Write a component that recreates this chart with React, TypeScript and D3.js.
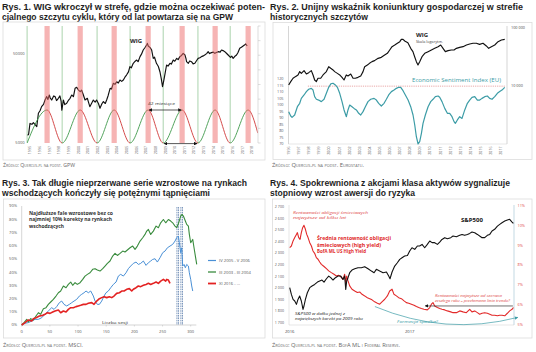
import React from 'react';
import * as d3 from 'd3';

const F = "'Open Sans', 'DejaVu Sans', sans-serif";
const FT = "'Liberation Sans', Arial, sans-serif";

// ---------- Rys. 1 ----------
const P1_YEARS = [1995, 1996, 1997, 1998, 1999, 2000, 2001, 2002, 2003, 2004, 2005, 2006, 2007, 2008, 2009, 2010, 2011, 2012, 2013, 2014, 2015, 2016, 2017, 2018];
const P1_Y_TICKS = [5000, 50000];
const P1_RIGHT_TICKS = [0, 1, 2, 3, 4, 5, 6, 7, 8];
const P1_WIG: [number, number][] = [
  [1994.73, 6150], [1994.85, 6200], [1995.0, 8300], [1995.2, 8100], [1995.35, 8450], [1995.55, 8000], [1995.7, 7640],
  [1995.87, 10800], [1996.05, 11600], [1996.2, 12800], [1996.4, 13600], [1996.56, 15200], [1996.73, 16600],
  [1996.85, 15400], [1997.0, 17300], [1997.1, 16000], [1997.25, 15200], [1997.45, 16900], [1997.6, 16600],
  [1997.75, 15000], [1997.94, 15900], [1998.1, 16900], [1998.22, 14800], [1998.3, 11700], [1998.46, 15200],
  [1998.6, 13500], [1998.8, 14000], [1999.0, 15200], [1999.15, 15900], [1999.32, 17300], [1999.5, 16600],
  [1999.67, 20600], [1999.84, 21100], [2000.0, 19800], [2000.2, 18900], [2000.35, 19600], [2000.53, 17300],
  [2000.7, 15200], [2000.94, 15900], [2001.05, 14500], [2001.2, 12800], [2001.4, 14100], [2001.56, 15200],
  [2001.75, 14400], [2001.9, 15200], [2002.1, 13800], [2002.25, 12300], [2002.45, 13800], [2002.6, 14600],
  [2002.8, 13900], [2002.94, 15200], [2003.1, 17100], [2003.3, 20600], [2003.45, 20200], [2003.63, 23400],
  [2003.8, 22800], [2003.98, 24400], [2004.15, 23600], [2004.32, 25500], [2004.5, 24600], [2004.67, 25500],
  [2004.85, 27600], [2005.0, 29000], [2005.2, 31500], [2005.35, 36000], [2005.5, 35000], [2005.7, 39300],
  [2005.9, 41500], [2006.05, 42800], [2006.2, 41000], [2006.4, 46700], [2006.55, 49800], [2006.73, 55500],
  [2006.9, 58800], [2007.08, 63100], [2007.16, 65800], [2007.25, 61500], [2007.45, 59000], [2007.6, 55500],
  [2007.77, 44700], [2007.9, 46000], [2008.1, 39300], [2008.3, 36200], [2008.46, 31600], [2008.6, 26500],
  [2008.73, 21500], [2008.87, 25500], [2009.0, 30500], [2009.15, 37600], [2009.3, 36500], [2009.5, 39300],
  [2009.65, 38500], [2009.84, 42800], [2010.0, 41500], [2010.2, 44700], [2010.35, 43200], [2010.53, 46700],
  [2010.7, 48200], [2010.87, 50800], [2011.05, 48700], [2011.15, 45000], [2011.22, 41000], [2011.4, 39300],
  [2011.55, 41800], [2011.73, 41000], [2011.9, 38700], [2012.08, 39300], [2012.25, 42000], [2012.42, 44700],
  [2012.6, 45300], [2012.77, 46700], [2012.95, 47600], [2013.1, 48700], [2013.3, 50500], [2013.46, 53100],
  [2013.6, 50600], [2013.8, 51800], [2014.0, 52500], [2014.15, 50800], [2014.3, 52000], [2014.5, 53100],
  [2014.7, 52500], [2014.84, 55500], [2015.0, 54600], [2015.18, 53100], [2015.35, 51000], [2015.53, 48700],
  [2015.77, 45900], [2015.9, 47300], [2016.05, 44700], [2016.2, 46800], [2016.4, 48700], [2016.55, 52000],
  [2016.73, 57900], [2016.9, 59500], [2017.08, 61500], [2017.22, 63000], [2017.35, 64800], [2017.5, 61500],
];
const P1_TROUGHS = [1994.7, 1998.33, 2001.95, 2005.37, 2008.8, 2012.4, 2015.74];
const P1_PEAKS = [1996.77, 2000.2, 2003.72, 2007.24, 2010.76, 2014.18, 2017.6];
const P1_WAVE_END: [number, number] = [2018.6, 0.3];

// ---------- Rys. 2 ----------
const P2_YEARS = [1996, 1997, 1998, 1999, 2000, 2001, 2002, 2003, 2004, 2005, 2006, 2007, 2008, 2009, 2010, 2011, 2012, 2013, 2014, 2015, 2016, 2017];
const P2_ESI_TICKS = [120, 115, 110, 105, 100, 95, 90, 85, 80, 75, 70];
const P2_WIG_TICKS = [100000, 10000];
const P2_ESI_PEAK = 114.5;
const P2_WIG: [number, number][] = [
  [1996.0, 10400], [1996.2, 11900], [1996.43, 13600], [1996.66, 14500], [1996.92, 15500], [1997.09, 17700],
  [1997.25, 16500], [1997.52, 18400], [1997.75, 16100], [1997.98, 17000], [1998.24, 18400], [1998.41, 15500],
  [1998.57, 12700], [1998.74, 11900], [1998.9, 13600], [1999.17, 13600], [1999.4, 15500], [1999.73, 17700],
  [1999.96, 21500], [2000.16, 20200], [2000.39, 18900], [2000.55, 17700], [2000.82, 16500], [2001.05, 15500],
  [2001.28, 14100], [2001.48, 12700], [2001.7, 15500], [2001.87, 14900], [2002.14, 16100], [2002.37, 13600],
  [2002.6, 13600], [2002.86, 14100], [2003.13, 14900], [2003.36, 17700], [2003.52, 21500], [2003.79, 23000],
  [2004.0, 24600], [2004.25, 26300], [2004.5, 27400], [2004.85, 30000], [2005.17, 31200], [2005.5, 34200],
  [2005.77, 36600], [2006.0, 41800], [2006.23, 47700], [2006.5, 50900], [2006.76, 54500], [2007.0, 58100],
  [2007.15, 63800], [2007.32, 63800], [2007.49, 59700], [2007.8, 55900], [2008.08, 44600], [2008.3, 39100],
  [2008.47, 32000], [2008.64, 26300], [2008.8, 23000], [2008.97, 26300], [2009.2, 32000], [2009.47, 36600],
  [2009.8, 39100], [2010.13, 41800], [2010.46, 44600], [2010.79, 47700], [2011.05, 50900], [2011.28, 44600],
  [2011.51, 39100], [2011.78, 40700], [2012.1, 41800], [2012.37, 41800], [2012.6, 44600], [2012.93, 46400],
  [2013.26, 47700], [2013.6, 50900], [2013.92, 53000], [2014.25, 54500], [2014.58, 54500], [2014.9, 52200],
  [2015.24, 54500], [2015.57, 49000], [2015.8, 44600], [2016.07, 47700], [2016.4, 50900], [2016.73, 58100],
  [2017.06, 62100], [2017.39, 63800],
];
const P2_ESI: [number, number][] = [
  [1996.0, 94.9], [1996.2, 91.5], [1996.33, 90.5], [1996.59, 92.3], [1996.86, 98.7], [1997.09, 101.3],
  [1997.25, 105.1], [1997.52, 107.7], [1997.75, 110.3], [1997.98, 112.1], [1998.24, 112.8], [1998.41, 111.5],
  [1998.57, 106.4], [1998.74, 104.4], [1998.97, 103.8], [1999.23, 102.6], [1999.5, 104.4], [1999.73, 109.0],
  [1999.96, 113.6], [2000.16, 116.2], [2000.39, 116.7], [2000.62, 115.4], [2000.82, 113.6], [2001.05, 109.0],
  [2001.28, 102.6], [2001.48, 96.2], [2001.71, 91.0], [2001.87, 96.2], [2002.04, 100.0], [2002.27, 98.7],
  [2002.47, 97.4], [2002.7, 96.2], [2002.93, 93.6], [2003.13, 92.3], [2003.36, 94.9], [2003.59, 98.7],
  [2003.85, 102.6], [2004.12, 104.4], [2004.45, 105.1], [2004.68, 103.8], [2004.91, 101.3], [2005.17, 99.2],
  [2005.44, 101.3], [2005.67, 104.4], [2005.9, 107.7], [2006.17, 110.3], [2006.43, 111.5], [2006.66, 112.8],
  [2006.89, 113.6], [2007.09, 113.6], [2007.32, 111.0], [2007.55, 107.7], [2007.82, 103.8], [2008.08, 98.7],
  [2008.31, 92.3], [2008.48, 84.6], [2008.64, 75.6], [2008.81, 70.0], [2008.97, 71.8], [2009.14, 78.2],
  [2009.3, 85.9], [2009.53, 92.3], [2009.8, 98.7], [2010.06, 102.6], [2010.29, 104.4], [2010.52, 106.4],
  [2010.79, 106.9], [2010.95, 105.9], [2011.18, 102.6], [2011.45, 97.4], [2011.71, 93.6], [2011.94, 93.6],
  [2012.17, 91.0], [2012.37, 87.2], [2012.5, 85.9], [2012.7, 88.5], [2012.93, 91.0], [2013.16, 89.7],
  [2013.43, 96.2], [2013.69, 101.3], [2013.92, 103.8], [2014.15, 105.9], [2014.42, 106.4], [2014.68, 103.8],
  [2014.91, 103.8], [2015.14, 105.1], [2015.41, 106.4], [2015.67, 106.9], [2015.9, 105.1], [2016.13, 104.4],
  [2016.4, 106.4], [2016.66, 109.0], [2016.89, 110.3], [2017.12, 111.5], [2017.39, 113.6],
];

// ---------- Rys. 3 ----------
const P3_X_TICKS = [0, 50, 100, 150, 200, 250, 300];
const P3_Y_TICKS = [0, 0.1, 0.2, 0.3, 0.4, 0.5, 0.6, 0.7, 0.8, 0.9];
const P3_MARKERS = [277, 284];
const P3_GREEN: [number, number][] = [
  [0, 0], [4.1, 1.8], [8.9, 4.3], [11.8, 2.3], [16, 4.8], [20.7, 3.8], [25.4, 6.8], [29.6, 9.3], [33.7, 8.1],
  [38.5, 12.3], [43.2, 13.1], [47.3, 15.6], [51.5, 17.4], [56.2, 19.4], [60.9, 21.9], [65.1, 24.4], [69.2, 25.7],
  [74, 29.5], [78.7, 28.2], [82.8, 30.7], [87, 32.5], [90.5, 30.0], [94.7, 32.0], [98.8, 30.7], [103.6, 32.0],
  [108.3, 34.5], [112.4, 37.0], [116.6, 38.3], [121.3, 39.5], [126, 42.1], [130.2, 42.6], [134.3, 41.6],
  [139.1, 40.8], [143.8, 42.6], [147.9, 44.6], [152.1, 46.6], [156.8, 48.4], [161.5, 52.1], [165.7, 54.2],
  [169.8, 52.6], [174.6, 54.2], [179.3, 55.9], [183.4, 55.2], [187.6, 56.7], [192.3, 58.4], [197, 59.7],
  [201.2, 57.2], [205.3, 59.7], [210.1, 63.5], [214.8, 66.0], [218.9, 68.5], [221.9, 71.0], [224.9, 72.3],
  [229, 68.5], [233.7, 71.0], [238.5, 74.8], [242.6, 73.6], [246.7, 77.3], [251.5, 79.8], [255.6, 77.3],
  [260.4, 79.8], [264.5, 78.6], [268, 77.3], [272.2, 74.8], [275.1, 73.6], [278.7, 77.3], [282.2, 82.4],
  [284.6, 83.6], [287, 82.4], [290.5, 78.6], [292.9, 76.1], [295.9, 74.8], [297.6, 68.5], [300, 62.2],
  [303.6, 64.7], [305.9, 58.4], [308.3, 52.1], [310.7, 45.8],
];
const P3_BLUE: [number, number][] = [
  [0, 0], [5.9, 1.3], [11.8, 1.8], [17.8, 3.0], [23.7, 4.3], [29.6, 4.3], [35.5, 5.5], [41.4, 8.1], [47.3, 10.6],
  [53.3, 13.1], [57.4, 11.8], [62.1, 13.9], [66.9, 16.9], [71, 18.1], [75.1, 15.6], [79.9, 14.4], [84.6, 15.6],
  [88.8, 16.9], [92.9, 18.1], [97.6, 19.4], [102.4, 21.9], [106.5, 23.2], [110.7, 24.4], [114.2, 25.7],
  [118.3, 24.4], [122.5, 25.7], [127.2, 21.9], [130.2, 18.1], [134.3, 15.6], [137.9, 15.6], [142, 18.1],
  [146.2, 21.9], [149.7, 24.4], [153.8, 25.7], [158, 28.2], [162.7, 30.7], [167.5, 32.5], [171.6, 37.0],
  [175.7, 38.3], [180.5, 37.0], [185.2, 39.5], [189.3, 42.6], [193.5, 44.6], [198.2, 46.6], [203, 47.6],
  [207.1, 45.8], [211.2, 46.6], [216, 48.4], [220.7, 45.1], [224.9, 47.1], [229, 48.4], [232.5, 49.6],
  [236.7, 50.1], [240.8, 47.6], [245.6, 50.9], [250.3, 54.7], [254.4, 55.9], [258.6, 58.4], [263.3, 59.7],
  [268, 61.0], [272.2, 63.5], [275.1, 66.0], [278.1, 67.3], [279.9, 62.2], [282.2, 54.7], [284, 58.4],
  [285.8, 44.6], [288.2, 45.8], [290.5, 43.3], [292.9, 45.8], [295.9, 44.6], [297.6, 39.5], [300, 34.5],
  [301.8, 29.5], [303.6, 25.7],
];
const P3_RED: [number, number][] = [
  [0, 0], [5.9, 1.8], [11.8, 3.8], [17.8, 3.0], [20.7, 4.8], [25.4, 5.5], [31.4, 6.8], [37.3, 7.3], [41.4, 8.1],
  [45.6, 9.3], [50.3, 8.8], [55, 9.8], [59.2, 10.6], [65.1, 11.3], [69.2, 9.3], [74, 10.6], [78.7, 9.8],
  [82.8, 11.8], [87, 13.1], [91.7, 13.1], [96.4, 13.9], [100.6, 14.4], [104.7, 14.9], [109.5, 15.6],
  [114.2, 15.6], [118.3, 16.4], [124.3, 16.9], [128.4, 15.6], [133.1, 18.1], [137.9, 19.9], [142, 20.7],
  [146.2, 21.4], [150.9, 20.7], [155.6, 21.4], [159.8, 20.7], [163.9, 21.9], [168.6, 23.9], [173.4, 24.4],
  [177.5, 25.7], [181.7, 25.7], [186.4, 27.0], [191.1, 27.5], [195.3, 25.7], [198.2, 27.0], [203, 28.2],
  [207.1, 29.5], [211.2, 29.0], [216, 30.0], [220.7, 30.7], [224.9, 31.5], [229, 30.7], [233.7, 31.5],
  [238.5, 32.5], [242.6, 31.5], [246.7, 33.2], [251.5, 34.5], [255.6, 33.2], [257.4, 34.5], [260.4, 34.0],
  [263.3, 31.5],
];
const P3_LEGEND = ['IV 2005 - V 2006', 'III 2003 - III 2004', 'XI 2016 - ...'];

// ---------- Rys. 4 ----------
const P4_SP_TICKS = [2700, 2600, 2500, 2400, 2300, 2200, 2100, 2000, 1900, 1800, 1700];
const P4_HY_TICKS = [11, 10, 9, 8, 7, 6, 5];
const P4_X_TICKS = [2016, 2017];
const P4_SP: [number, number][] = [
  [2016.0, 2002], [2016.014, 1944], [2016.028, 1901], [2016.042, 1887], [2016.056, 1858], [2016.069, 1901],
  [2016.083, 1930], [2016.097, 1887], [2016.111, 1815], [2016.119, 1844], [2016.131, 1901], [2016.147, 1958],
  [2016.167, 2002], [2016.186, 2016], [2016.208, 2030], [2016.231, 2050], [2016.25, 2059], [2016.269, 2068],
  [2016.286, 2050], [2016.306, 2079], [2016.325, 2102], [2016.342, 2088], [2016.361, 2068], [2016.381, 2088],
  [2016.403, 2102], [2016.425, 2102], [2016.444, 2073], [2016.458, 2102], [2016.467, 1987], [2016.475, 2059],
  [2016.486, 2088], [2016.5, 2131], [2016.519, 2154], [2016.542, 2165], [2016.569, 2174], [2016.597, 2174],
  [2016.625, 2183], [2016.653, 2165], [2016.681, 2145], [2016.703, 2131], [2016.722, 2160], [2016.75, 2145],
  [2016.778, 2131], [2016.806, 2137], [2016.825, 2102], [2016.836, 2079], [2016.853, 2137], [2016.875, 2188],
  [2016.897, 2217], [2016.917, 2246], [2016.936, 2260], [2016.958, 2275], [2016.981, 2280], [2017.0, 2318],
  [2017.019, 2346], [2017.042, 2332], [2017.064, 2361], [2017.083, 2361], [2017.103, 2375], [2017.125, 2346],
  [2017.147, 2375], [2017.167, 2404], [2017.186, 2390], [2017.208, 2390], [2017.231, 2375], [2017.25, 2395],
  [2017.269, 2418], [2017.292, 2433], [2017.314, 2424], [2017.342, 2433], [2017.361, 2447], [2017.389, 2441],
  [2017.417, 2453], [2017.436, 2461], [2017.458, 2453], [2017.481, 2461], [2017.5, 2470], [2017.519, 2482],
  [2017.542, 2476], [2017.564, 2461], [2017.583, 2447], [2017.603, 2433], [2017.625, 2433], [2017.647, 2453],
  [2017.667, 2461], [2017.686, 2490], [2017.708, 2505], [2017.731, 2533], [2017.75, 2548], [2017.769, 2562],
  [2017.792, 2576], [2017.814, 2585], [2017.833, 2591], [2017.853, 2568], [2017.864, 2556],
];
const P4_HY: [number, number][] = [
  [2016.0, 8.89], [2016.014, 8.97], [2016.028, 9.23], [2016.042, 9.40], [2016.056, 9.56], [2016.064, 9.65],
  [2016.075, 9.40], [2016.086, 9.31], [2016.097, 9.65], [2016.108, 9.90], [2016.119, 10.02], [2016.131, 9.82],
  [2016.142, 9.56], [2016.153, 9.40], [2016.167, 9.14], [2016.181, 8.97], [2016.194, 8.72], [2016.208, 8.60],
  [2016.222, 8.38], [2016.236, 8.30], [2016.25, 8.16], [2016.264, 8.04], [2016.286, 7.93], [2016.306, 7.82],
  [2016.325, 7.71], [2016.347, 7.62], [2016.369, 7.54], [2016.389, 7.45], [2016.408, 7.49], [2016.425, 7.42],
  [2016.444, 7.28], [2016.458, 7.54], [2016.467, 7.11], [2016.475, 7.45], [2016.486, 7.20], [2016.5, 6.95],
  [2016.519, 6.78], [2016.542, 6.69], [2016.564, 6.61], [2016.583, 6.64], [2016.603, 6.52], [2016.625, 6.44],
  [2016.647, 6.35], [2016.667, 6.30], [2016.686, 6.24], [2016.708, 6.14], [2016.731, 6.07], [2016.75, 6.02],
  [2016.769, 6.14], [2016.792, 6.27], [2016.814, 6.44], [2016.833, 6.69], [2016.853, 6.78], [2016.869, 6.52],
  [2016.889, 6.44], [2016.908, 6.35], [2016.931, 6.30], [2016.953, 6.19], [2016.972, 6.10], [2016.992, 6.07],
  [2017.014, 6.02], [2017.036, 5.97], [2017.056, 5.90], [2017.075, 5.85], [2017.097, 5.80], [2017.119, 5.76],
  [2017.147, 5.73], [2017.167, 5.85], [2017.181, 6.02], [2017.194, 6.10], [2017.208, 5.93], [2017.231, 5.85],
  [2017.25, 5.80], [2017.269, 5.76], [2017.292, 5.73], [2017.314, 5.68], [2017.342, 5.63], [2017.361, 5.59],
  [2017.389, 5.59], [2017.417, 5.68], [2017.444, 5.63], [2017.472, 5.59], [2017.5, 5.76], [2017.519, 5.63],
  [2017.542, 5.68], [2017.564, 5.59], [2017.583, 5.51], [2017.603, 5.56], [2017.625, 5.59], [2017.647, 5.56],
  [2017.667, 5.51], [2017.686, 5.46], [2017.708, 5.46], [2017.731, 5.43], [2017.75, 5.46], [2017.769, 5.46],
  [2017.792, 5.43], [2017.814, 5.56], [2017.833, 5.68], [2017.853, 5.76], [2017.864, 5.85],
];
const P4_HY_LEVEL = 5.93;
const P4_HY_LEVEL_FROM = 2017.13;
const P4_HY_LEVEL_TO = 2017.86;

// ---------- scales ----------
const x1 = d3.scaleLinear().domain([1995, 2018]).range([30, 252]);
const y1 = d3.scaleLog().domain([5000, 50000]).range([143, 54]);
const w1 = d3.scaleLinear().domain([0, 1]).range([143, 110]);
const r1 = d3.scaleLinear().domain([0, 8]).range([143, 26]);

const x2 = d3.scaleLinear().domain([1996, 2017]).range([288.7, 500.8]);
const yW2 = d3.scaleLog().domain([10000, 100000]).range([86, 28]);
const yE2 = d3.scaleLinear().domain([70, 120]).range([144, 79]);

const x3 = d3.scaleLinear().domain([0, 300]).range([21.7, 190.7]);
const y3 = d3.scaleLinear().domain([0, 0.9]).range([325, 206]);

const x4 = d3.scaleLinear().domain([2016, 2017]).range([289.7, 409.7]);
const yS4 = d3.scaleLinear().domain([1700, 2700]).range([322.7, 206.7]);
const yR4 = d3.scaleLinear().domain([5, 11]).range([324.3, 206]);

const mkLine = (xs: any, ys: any) => d3.line<[number, number]>().x(d => xs(d[0])).y(d => ys(d[1]));

function Title({ x, y, lines }: { x: number; y: number; lines: [string, number][] }) {
  return (
    <g>
      {lines.map(([t, len], i) => (
        <text key={i} x={x} y={y + i * 9.7} fontFamily={FT} fontWeight={700} fontSize={8.6} fill="#1e1e1e"
          textLength={len} lengthAdjust="spacingAndGlyphs">{t}</text>
      ))}
    </g>
  );
}

function Source({ x, y, text, len }: { x: number; y: number; text: string; len: number }) {
  return (
    <text x={x} y={y} fontFamily={F} fontSize={4.6} fill="#666" style={{ fontVariant: 'small-caps' }}
      textLength={len} lengthAdjust="spacingAndGlyphs">{text}</text>
  );
}

function T({ x, y, children, size = 4.2, fill = '#555', anchor = 'start', weight = 400, italic = false, len }: any) {
  return (
    <text x={x} y={y} fontFamily={F} fontSize={size} fill={fill} textAnchor={anchor} fontWeight={weight}
      fontStyle={italic ? 'italic' : 'normal'} textLength={len} lengthAdjust={len ? 'spacingAndGlyphs' : undefined}>
      {children}
    </text>
  );
}

function Panel1() {
  const wavePts: [number, number][] = [];
  P1_TROUGHS.forEach((t, i) => {
    wavePts.push([t, 0]);
    wavePts.push([P1_PEAKS[i], 1]);
  });
  wavePts.push(P1_WAVE_END);
  const wave = d3.line<[number, number]>().x(d => x1(d[0])).y(d => w1(d[1])).curve(d3.curveMonotoneX)(wavePts) || '';
  const rising = P1_TROUGHS.map((t, i) => [t, P1_PEAKS[i]]);
  const falling = P1_PEAKS.map((p, i) => [p, i + 1 < P1_TROUGHS.length ? P1_TROUGHS[i + 1] : P1_WAVE_END[0]]);
  const top = r1(8), bottom = r1(0);
  return (
    <g>
      <Title x={2} y={10.2} lines={[
        ['Rys. 1. WIG wkroczył w strefę, gdzie można oczekiwać poten-', 263],
        ['cjalnego szczytu cyklu, który od lat powtarza się na GPW', 231],
      ]} />
      <rect x={3} y={22} width={262} height={138} fill="none" stroke="#dcdcdc" strokeWidth={0.8} />
      <defs>
        <clipPath id="p1-rise">
          {rising.map(([a, b], i) => <rect key={i} x={x1(a)} y={top - 5} width={x1(b) - x1(a)} height={bottom - top + 10} />)}
        </clipPath>
        <clipPath id="p1-fall">
          {falling.map(([a, b], i) => <rect key={i} x={x1(a)} y={top - 5} width={x1(b) - x1(a)} height={bottom - top + 10} />)}
        </clipPath>
      </defs>
      {P1_TROUGHS.map((t, i) => (
        <line key={i} x1={x1(t)} x2={x1(t)} y1={top} y2={bottom} stroke="#86c08a" strokeWidth={0.7} />
      ))}
      <path d={mkLine(x1, y1)(P1_WIG) || ''} fill="none" stroke="#111" strokeWidth={1.15} strokeLinejoin="round" />
      <path d={wave} fill="none" stroke="#3f9a4c" strokeWidth={0.9} clipPath="url(#p1-rise)" />
      <path d={wave} fill="none" stroke="#cf3838" strokeWidth={0.9} clipPath="url(#p1-fall)" />
      {P1_PEAKS.map((p, i) => (
        <rect key={i} x={x1(p) - 2.6} y={top} width={5.2} height={bottom - top} fill="#ee6a6a" opacity={0.5} />
      ))}
      <line x1={258} x2={258} y1={top} y2={bottom} stroke="#c8c8c8" strokeWidth={0.6} />
      {P1_RIGHT_TICKS.map(v => <line key={v} x1={258} x2={260.5} y1={r1(v)} y2={r1(v)} stroke="#c8c8c8" strokeWidth={0.6} />)}
      {P1_Y_TICKS.map(v => <T key={v} x={24.5} y={y1(v) + 1.4} anchor="end" size={4}>{v}</T>)}
      {P1_YEARS.map(yr => (
        <text key={yr} transform={`translate(${x1(yr) + 1.4},146) rotate(-90)`} fontFamily={F} fontSize={3.6}
          fill="#666" textAnchor="end">{yr}</text>
      ))}
      <line x1={x1(P1_PEAKS[3]) + 1} x2={x1(P1_PEAKS[4]) - 1} y1={w1(1)} y2={w1(1)} stroke="#111" strokeWidth={0.7}
        markerStart="url(#ah-k)" markerEnd="url(#ah-k)" />
      <line x1={x1(P1_TROUGHS[4]) + 1} x2={x1(P1_TROUGHS[5]) - 1} y1={w1(0) + 0.6} y2={w1(0) + 0.6} stroke="#111" strokeWidth={0.7}
        markerStart="url(#ah-k)" markerEnd="url(#ah-k)" />
      <T x={161.5} y={105} anchor="middle" size={4.2} fill="#333" len={27}>42 miesiące</T>
      <T x={130} y={42.5} size={6} weight={700} fill="#222">WIG</T>
      <Source x={3} y={166.5} text="Źródło: Quercus.pl na podst. GPW" len={72} />
    </g>
  );
}

function Panel2() {
  return (
    <g>
      <Title x={270} y={10.2} lines={[
        ['Rys. 2. Unijny wskaźnik koniunktury gospodarczej w strefie', 253],
        ['historycznych szczytów', 98],
      ]} />
      <rect x={273} y={22.5} width={259} height={137} fill="none" stroke="#dcdcdc" strokeWidth={0.8} />
      <line x1={288.5} x2={288.5} y1={26} y2={144} stroke="#bbb" strokeWidth={0.6} />
      <line x1={507} x2={507} y1={26} y2={144} stroke="#bbb" strokeWidth={0.6} />
      <line x1={288.5} x2={507} y1={144} y2={144} stroke="#ccc" strokeWidth={0.5} />
      {P2_ESI_TICKS.map(v => <T key={v} x={283.5} y={yE2(v) + 1.3} anchor="end" size={3.8} fill="#556">{v}</T>)}
      {P2_WIG_TICKS.map(v => <T key={v} x={511} y={yW2(v) + 1.3} size={3.8} fill="#444">{d3.format(',')(v).replace(',', ' ')}</T>)}
      {P2_YEARS.map(yr => (
        <text key={yr} transform={`translate(${x2(yr) + 1.3},146.5) rotate(-90)`} fontFamily={F} fontSize={3.6}
          fill="#666" textAnchor="end">{yr}</text>
      ))}
      <line x1={x2(1997.9)} x2={x2(2017.4)} y1={yE2(P2_ESI_PEAK)} y2={yE2(P2_ESI_PEAK)} stroke="#e08080"
        strokeWidth={0.7} strokeDasharray="1.2,1" />
      <path d={mkLine(x2, yE2)(P2_ESI) || ''} fill="none" stroke="#3c9ca6" strokeWidth={1.2} strokeLinejoin="round" />
      <path d={mkLine(x2, yW2)(P2_WIG) || ''} fill="none" stroke="#111" strokeWidth={1.15} strokeLinejoin="round" />
      <T x={416} y={36.5} size={6} weight={700} fill="#222">WIG</T>
      <T x={416} y={42.8} size={3.8} fill="#444">Skala logarytm.</T>
      <T x={412} y={81.5} size={4.8} fill="#3c9ca6" len={89}>Economic Sentiment Index (EU)</T>
      <Source x={272} y={166.5} text="Źródło: Quercus.pl na podst. Eurostatu." len={92} />
    </g>
  );
}

function Panel3() {
  const series: [string, [number, number][], number][] = [
    ['#4a90d6', P3_BLUE, 1],
    ['#3a8c3e', P3_GREEN, 1.1],
    ['#e32222', P3_RED, 1.6],
  ];
  const line3 = d3.line<[number, number]>().x(d => x3(d[0])).y(d => y3(d[1] / 100));
  return (
    <g>
      <Title x={2} y={186.2} lines={[
        ['Rys. 3. Tak długie nieprzerwane serie wzrostowe na rynkach', 245],
        ['wschodzących kończyły się potężnymi tąpnięciami', 208],
      ]} />
      <rect x={3.5} y={199} width={261.5} height={139} fill="none" stroke="#dcdcdc" strokeWidth={0.8} />
      <line x1={x3(0)} x2={x3(0)} y1={y3(0.9)} y2={y3(0)} stroke="#bbb" strokeWidth={0.6} />
      <line x1={x3(0)} x2={x3(310)} y1={y3(0)} y2={y3(0)} stroke="#bbb" strokeWidth={0.6} />
      {P3_Y_TICKS.map(v => <T key={v} x={17} y={y3(v) + 1.4} anchor="end" size={4} fill="#555">{d3.format('.0%')(v)}</T>)}
      {P3_X_TICKS.map(v => (
        <g key={v}>
          <line x1={x3(v)} x2={x3(v)} y1={y3(0)} y2={y3(0) + 1.5} stroke="#bbb" strokeWidth={0.5} />
          <T x={x3(v)} y={332.8} anchor="middle" size={4} fill="#555">{v}</T>
        </g>
      ))}
      {P3_MARKERS.map(m => (
        <g key={m}>
          <line x1={x3(m) - 0.8} x2={x3(m) - 0.8} y1={y3(0.9) + 1} y2={y3(0)} stroke="#24508f" strokeWidth={0.6} strokeDasharray="1.6,0.8" />
          <line x1={x3(m) + 0.8} x2={x3(m) + 0.8} y1={y3(0.9) + 1} y2={y3(0)} stroke="#24508f" strokeWidth={0.6} strokeDasharray="1.6,0.8" />
        </g>
      ))}
      {series.map(([c, d, w], i) => (
        <path key={i} d={line3(d) || ''} fill="none" stroke={c} strokeWidth={w} strokeLinejoin="round" />
      ))}
      {P3_LEGEND.map((t, i) => (
        <g key={t}>
          <line x1={208} x2={216} y1={260.5 + i * 11.5} y2={260.5 + i * 11.5} stroke={series[i][0]} strokeWidth={series[i][2] + 0.2} />
          <T x={219} y={262 + i * 11.5} size={4.2} fill="#555">{t}</T>
        </g>
      ))}
      <T x={29} y={214.5} size={4.8} weight={700} fill="#333" len={84}>Najdłuższe fale wzrostowe bez co</T>
      <T x={29} y={221} size={4.8} weight={700} fill="#333" len={83}>najmniej 10% korekty na rynkach</T>
      <T x={29} y={227.5} size={4.8} weight={700} fill="#333" len={35}>wschodzących</T>
      <T x={102} y={324} size={4.2} fill="#333" len={26}>Liczba sesji</T>
      <Source x={3} y={346.5} text="Źródło: Quercus.pl na podst. MSCI." len={80} />
    </g>
  );
}

function Panel4() {
  const teal = '#3c9ca6';
  const ax = x4(2016.71), ay = yR4(5.9);
  const bx = x4(2017.9), by = yR4(5.35);
  const cx = x4(2017.3), cy = yR4(4.4);
  return (
    <g>
      <Title x={270} y={186.2} lines={[
        ['Rys. 4. Spokrewniona z akcjami klasa aktywów sygnalizuje', 240],
        ['stopniowy wzrost awersji do ryzyka', 145],
      ]} />
      <rect x={272.5} y={199} width={259.5} height={139} fill="none" stroke="#dcdcdc" strokeWidth={0.8} />
      <line x1={289} x2={289} y1={205} y2={325} stroke="#ccc" strokeWidth={0.5} />
      <line x1={514} x2={514} y1={205} y2={325} stroke="#9bbfd0" strokeWidth={0.6} />
      <line x1={289} x2={514} y1={325} y2={325} stroke="#ccc" strokeWidth={0.5} />
      {P4_SP_TICKS.map(v => <T key={v} x={284} y={yS4(v) + 1.3} anchor="end" size={3.6} fill="#555">{d3.format(',')(v).replace(',', ' ')}</T>)}
      {P4_HY_TICKS.map(v => <T key={v} x={517.5} y={yR4(v) + 1.3} size={3.8} fill="#e04848">{v}%</T>)}
      {P4_X_TICKS.map(v => <T key={v} x={x4(v)} y={333} anchor="middle" size={4.2} fill="#444">{v}</T>)}
      <path d={mkLine(x4, yR4)(P4_HY) || ''} fill="none" stroke="#e22a2a" strokeWidth={1.1} strokeLinejoin="round" />
      <path d={mkLine(x4, yS4)(P4_SP) || ''} fill="none" stroke="#111" strokeWidth={1.1} strokeLinejoin="round" />
      <line x1={x4(P4_HY_LEVEL_TO)} x2={x4(P4_HY_LEVEL_FROM)} y1={yR4(P4_HY_LEVEL)} y2={yR4(P4_HY_LEVEL)}
        stroke="#333" strokeWidth={0.7} markerEnd="url(#ah-k)" />
      <path d={`M${ax},${ay}Q${cx},${cy} ${bx},${by}`} fill="none" stroke={teal} strokeWidth={0.7} markerEnd="url(#ah-t)" />
      <T x={293} y={213.5} size={3.6} italic fill="#e04848" len={75}>Rentowności obligacji śmieciowych</T>
      <T x={293} y={219} size={3.6} italic fill="#e04848" len={53}>najwyższe od kilku lat</T>
      <T x={317} y={240} size={5.4} weight={700} fill="#e02a2a" len={74}>Średnia rentowność obligacji</T>
      <T x={317} y={246.8} size={5.4} weight={700} fill="#e02a2a" len={64}>śmieciowych (high yield)</T>
      <T x={317} y={252.8} size={4.4} weight={700} fill="#e02a2a" len={49}>BofA ML US High Yield</T>
      <T x={461} y={221.5} size={6} weight={700} fill="#111">S&amp;P500</T>
      <T x={295} y={315.2} size={3.6} italic fill="#222" len={50}>S&amp;P500 w dołku jednej z</T>
      <T x={295} y={320.2} size={3.6} italic fill="#222" len={68}>największych korekt po 2009 roku</T>
      <T x={435} y={297.3} size={3.6} italic fill="#e04848" len={67}>Rentowności najwyższe od czerwca</T>
      <T x={435} y={302} size={3.6} italic fill="#e04848" len={75}>zeszłego roku – przełamana linia trendu?</T>
      <T x={397} y={323.2} size={4} italic fill={teal} len={41}>Formacja spodka?</T>
      <Source x={272} y={346.5} text="Źródło: Quercus.pl na podst. BofA ML i Federal Reserve." len={128} />
    </g>
  );
}

export default function App() {
  return (
    <svg width={536} height={352} viewBox="0 0 536 352"
      style={{ position: 'absolute', left: 0, top: 0, background: '#fff' }}>
      <defs>
        <marker id="ah-k" viewBox="0 0 6 6" refX="5" refY="3" markerWidth="5" markerHeight="5" orient="auto-start-reverse">
          <path d="M0,0L6,3L0,6Z" fill="#111" />
        </marker>
        <marker id="ah-t" viewBox="0 0 6 6" refX="5" refY="3" markerWidth="5" markerHeight="5" orient="auto-start-reverse">
          <path d="M0,0L6,3L0,6Z" fill="#3c9ca6" />
        </marker>
      </defs>
      <rect width={536} height={352} fill="#fff" />
      <Panel1 />
      <Panel2 />
      <Panel3 />
      <Panel4 />
    </svg>
  );
}
